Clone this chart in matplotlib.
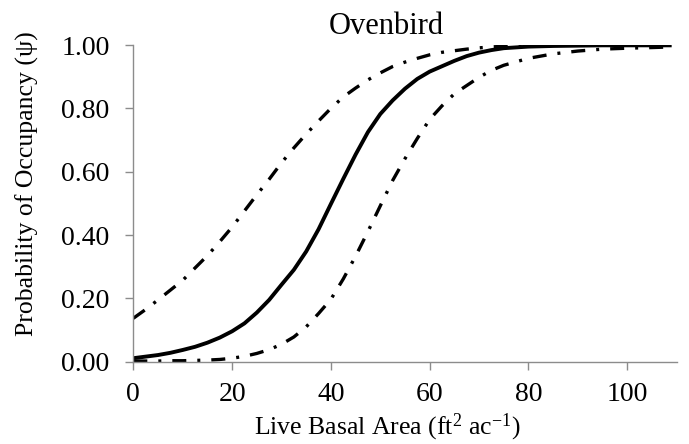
import matplotlib
matplotlib.use("Agg")
import matplotlib.pyplot as plt

plt.rcParams['font.family'] = ['Liberation Serif', 'DejaVu Serif']
plt.rcParams['mathtext.fontset'] = 'custom'
plt.rcParams['mathtext.rm'] = 'Liberation Serif'
plt.rcParams['mathtext.it'] = 'Liberation Serif:italic'

# Estimated values
basal_area = [0, 2.5, 5, 7.5, 10, 12.5, 15, 17.5, 20, 22.5, 25, 27.5, 30, 32.5, 35,
              37.5, 40, 42.5, 45, 47.5, 50, 52.5, 55, 57.5, 60, 62.5, 65, 67.5, 70,
              72.5, 75, 80, 85, 90, 95, 100, 105, 109]
psi_mean = [0.011, 0.016, 0.021, 0.028, 0.037, 0.047, 0.060, 0.076, 0.096, 0.121,
            0.155, 0.195, 0.243, 0.290, 0.348, 0.418, 0.498, 0.577, 0.654, 0.725,
            0.782, 0.825, 0.862, 0.893, 0.916, 0.933, 0.950, 0.965, 0.976, 0.984,
            0.990, 0.995, 0.997, 0.998, 0.999, 0.999, 0.999, 0.999]
psi_upper = [0.137, 0.165, 0.195, 0.226, 0.257, 0.296, 0.335, 0.379, 0.425, 0.476,
             0.527, 0.576, 0.628, 0.675, 0.719, 0.760, 0.800, 0.836, 0.864, 0.890,
             0.912, 0.932, 0.946, 0.958, 0.969, 0.977, 0.982, 0.987, 0.991, 0.994,
             0.996, 0.998, 0.999, 0.999, 1.000, 1.000, 1.000, 1.000]
psi_lower = [0.002, 0.002, 0.002, 0.003, 0.003, 0.004, 0.005, 0.007, 0.011, 0.017,
             0.026, 0.038, 0.055, 0.078, 0.110, 0.152, 0.197, 0.261, 0.333, 0.411,
             0.492, 0.572, 0.641, 0.705, 0.765, 0.808, 0.846, 0.872, 0.898, 0.920,
             0.936, 0.958, 0.972, 0.981, 0.987, 0.990, 0.992, 0.994]

x_ticks = [0, 20, 40, 60, 80, 100]
y_ticks = [0.0, 0.2, 0.4, 0.6, 0.8, 1.0]

fig = plt.figure(figsize=(6.89, 4.44), dpi=100)
ax = fig.add_axes([0.1935, 0.1854, 0.7885, 0.7132])

dashdot = (0, (4.2, 3.3, 0.9, 3.3))
ax.plot(basal_area, psi_upper, color='black', lw=2.4, linestyle=dashdot,
        dash_capstyle='butt', solid_joinstyle='round')
ax.plot(basal_area, psi_lower, color='black', lw=2.4, linestyle=dashdot,
        dash_capstyle='butt')
ax.plot(basal_area, psi_mean, color='black', lw=2.8, solid_capstyle='butt',
        solid_joinstyle='round')

ax.set_xlim(0, 110)
ax.set_ylim(0, 1.0)
ax.set_xticks(x_ticks)
ax.set_yticks(y_ticks)
ax.set_yticklabels([f"{v:.2f}" for v in y_ticks])

for s in ['top', 'right']:
    ax.spines[s].set_visible(False)
for s in ['left', 'bottom']:
    ax.spines[s].set_color('#8c8c8c')
    ax.spines[s].set_linewidth(1.0)
ax.tick_params(axis='both', direction='out', length=6, width=1.0, color='#8c8c8c',
               labelsize=20, labelcolor='black')
ax.tick_params(axis='y', pad=11)
ax.tick_params(axis='x', pad=8.5)

fig.text(0.561, 1 - 33.5 / 444, "Ovenbird", ha='center', va='baseline', fontsize=22)
fig.text(0.039, 0.587, "Probability of Occupancy (ψ)", rotation=90,
         ha='center', va='center', fontsize=18.5)
fig.text(0.5617, 1 - 434.5 / 444,
         "Live Basal Area (ft$^{2}$ ac$^{\\mathregular{-1}}$)",
         ha='center', va='baseline', fontsize=18.5)

fig.savefig("out.png", dpi=100)
